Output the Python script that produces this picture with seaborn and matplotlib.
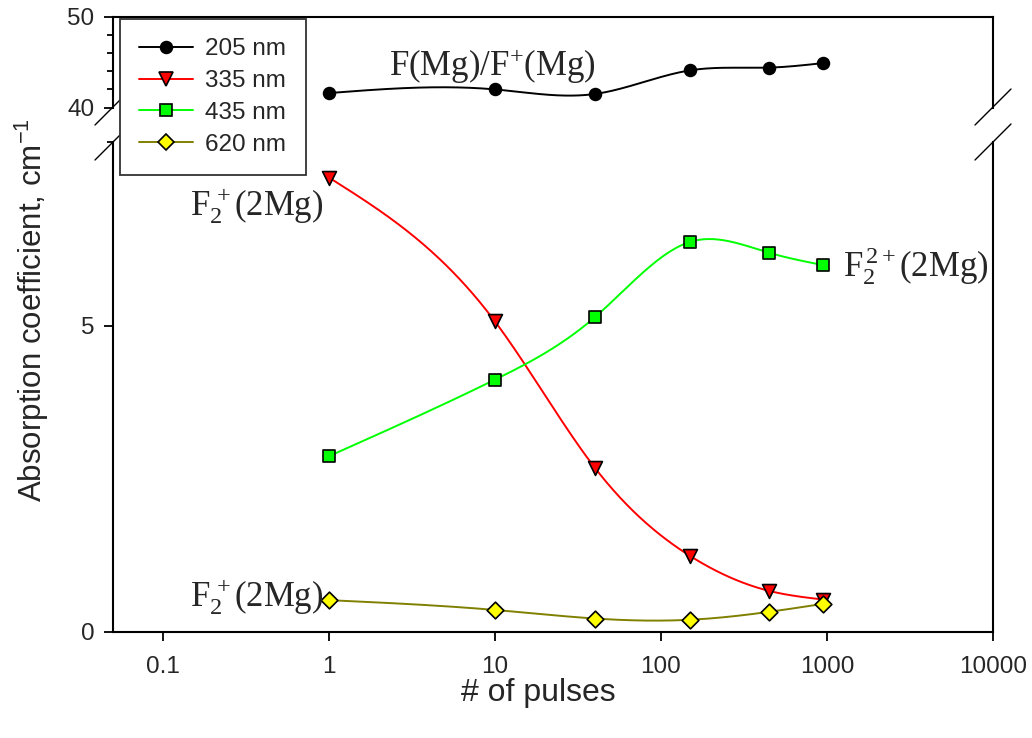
import numpy as np
import pandas as pd
import matplotlib
matplotlib.use("Agg")
import matplotlib.pyplot as plt
from matplotlib.lines import Line2D
import seaborn as sns

# ---------------- data ----------------
pulses = [1, 10, 40, 150, 450, 950]
abs_205 = [41.6, 42.0, 41.5, 44.1, 44.4, 44.9]
abs_335 = [7.42, 5.07, 2.68, 1.24, 0.67, 0.53]
abs_435 = [2.87, 4.12, 5.14, 6.37, 6.19, 5.99]
abs_620 = [0.52, 0.36, 0.22, 0.20, 0.33, 0.46]
series_names = ["205 nm", "335 nm", "435 nm", "620 nm"]
x_ticks = [0.1, 1, 10, 100, 1000, 10000]
x_tick_labels = ["0.1", "1", "10", "100", "1000", "10000"]

sns.set_style("ticks")
plt.rcParams["font.family"] = ["Liberation Sans", "DejaVu Sans"]
plt.rcParams["mathtext.fontset"] = "custom"
plt.rcParams["mathtext.rm"] = "Liberation Serif"
plt.rcParams["mathtext.it"] = "Liberation Serif:italic"
plt.rcParams["mathtext.sf"] = "Liberation Sans"

W, H = 1032, 738
fig = plt.figure(figsize=(W / 100, H / 100), dpi=100)


def fx(px):
    return px / W


def fy(py):
    return 1 - py / H


L, R = 113, 993
ax_top = fig.add_axes([fx(L), fy(107.6), fx(R) - fx(L), fy(16.7) - fy(107.6)])
ax_bot = fig.add_axes([fx(L), fy(632), fx(R) - fx(L), fy(142) - fy(632)])


def natural_spline(xk, yk, xs):
    xk = np.asarray(xk, float)
    yk = np.asarray(yk, float)
    n = len(xk)
    h = np.diff(xk)
    A = np.zeros((n, n))
    b = np.zeros(n)
    A[0, 0] = 1
    A[-1, -1] = 1
    for i in range(1, n - 1):
        A[i, i - 1] = h[i - 1]
        A[i, i] = 2 * (h[i - 1] + h[i])
        A[i, i + 1] = h[i]
        b[i] = 6 * ((yk[i + 1] - yk[i]) / h[i] - (yk[i] - yk[i - 1]) / h[i - 1])
    M = np.linalg.solve(A, b)
    out = np.empty_like(xs)
    idx = np.clip(np.searchsorted(xk, xs) - 1, 0, n - 2)
    for j, x in enumerate(xs):
        i = idx[j]
        t1 = xk[i + 1] - x
        t0 = x - xk[i]
        out[j] = (M[i] * t1 ** 3 / (6 * h[i]) + M[i + 1] * t0 ** 3 / (6 * h[i])
                  + (yk[i] / h[i] - M[i] * h[i] / 6) * t1
                  + (yk[i + 1] / h[i] - M[i + 1] * h[i] / 6) * t0)
    return out


styles = {
    "205 nm": dict(line="black", face="black", marker="o", ms=8.5),
    "335 nm": dict(line="#FF0000", face="#FF0000", marker="v", ms=10),
    "435 nm": dict(line="#00FF00", face="#00FF00", marker="s", ms=9),
    "620 nm": dict(line="#808000", face="#FFFF00", marker="D", ms=8.5),
}
values = {"205 nm": abs_205, "335 nm": abs_335, "435 nm": abs_435, "620 nm": abs_620}

lx = np.log10(pulses)
xs_log = np.linspace(lx[0], lx[-1], 300)
for name in series_names:
    st = styles[name]
    ax = ax_top if name == "205 nm" else ax_bot
    ys = natural_spline(lx, values[name], xs_log)
    curve = pd.DataFrame({"x": 10 ** xs_log, "y": ys})
    sns.lineplot(data=curve, x="x", y="y", ax=ax, color=st["line"], lw=1.4,
                 sort=False, estimator=None, zorder=2)
    pts = pd.DataFrame({"x": pulses, "y": values[name]})
    sns.scatterplot(data=pts, x="x", y="y", ax=ax, marker=st["marker"],
                    s=st["ms"] ** 2, color=st["face"], edgecolor="black",
                    linewidth=1.2, zorder=3)

TICK = 17.5
for ax in (ax_top, ax_bot):
    ax.set_xscale("log")
    ax.set_xlim(0.05, 10000)
    ax.set_xlabel("")
    ax.set_ylabel("")
    for sp in ax.spines.values():
        sp.set_linewidth(1.5)
        sp.set_color("black")
    ax.tick_params(which="major", direction="out", length=6.5, width=1.3,
                   labelsize=TICK, pad=7, color="black")
    ax.tick_params(which="minor", direction="out", length=4.5, width=1.3,
                   color="black")

# upper axis
ax_top.set_ylim(40, 50)
ax_top.set_yticks([40, 50])
ax_top.set_yticks([42, 44, 46, 48], minor=True)
ax_top.spines["bottom"].set_visible(False)
ax_top.tick_params(axis="x", which="both", bottom=False, labelbottom=False)
ax_top.xaxis.set_minor_locator(matplotlib.ticker.NullLocator())

# lower axis
ax_bot.set_ylim(0, 8)
ax_bot.set_yticks([0, 5])
ax_bot.set_yticks([8], minor=True)
ax_bot.spines["top"].set_visible(False)
ax_bot.set_xticks(x_ticks)
ax_bot.set_xticklabels(x_tick_labels)
ax_bot.xaxis.set_minor_locator(matplotlib.ticker.NullLocator())
ax_bot.tick_params(axis="x", pad=11)

fig.text(fx(538), fy(693), "# of pulses", fontsize=23, ha="center", va="center")
fig.text(fx(32), fy(310), r"Absorption coefficient, cm$\mathsf{^{-1}}$",
         fontsize=22.5, ha="center", va="center", rotation=90)

# axis-break marks
for (x0, y0, x1, y1) in [(95, 125, 120, 100), (95, 160, 120, 135),
                         (975, 125, 1011, 89), (975, 160, 1011, 124)]:
    fig.add_artist(Line2D([fx(x0), fx(x1)], [fy(y0), fy(y1)], color="black",
                          lw=1.0, transform=fig.transFigure))

# annotations
tsize = 25
ax_top.text(2.3, 43.5, r"$\mathrm{F(Mg)/F^{+}(Mg)}$", fontsize=tsize,
            ha="left", va="baseline")
ax_bot.text(0.146, 6.8, r"$\mathrm{F_2^{\,+}(2Mg)}$", fontsize=tsize,
            ha="left", va="baseline")
ax_bot.text(0.146, 0.41, r"$\mathrm{F_2^{\,+}(2Mg)}$", fontsize=tsize,
            ha="left", va="baseline")
ax_bot.text(1248, 5.81, r"$\mathrm{F_2^{\,2+}(2Mg)}$", fontsize=tsize,
            ha="left", va="baseline")

# legend
handles = [Line2D([0], [0], color=styles[n]["line"], lw=1.4,
                  marker=styles[n]["marker"], markersize=styles[n]["ms"],
                  markerfacecolor=styles[n]["face"], markeredgecolor="black",
                  markeredgewidth=1.2) for n in series_names]
leg = fig.legend(handles, series_names, loc="upper left",
                 bbox_to_anchor=(fx(120), fy(19)), borderaxespad=0,
                 fontsize=17.5, frameon=True, fancybox=False, framealpha=1,
                 edgecolor="#333333", handlelength=2.2, handletextpad=0.5,
                 labelspacing=0.4, borderpad=0.8)
leg.get_frame().set_linewidth(1.3)

fig.savefig("out.png", dpi=100)
